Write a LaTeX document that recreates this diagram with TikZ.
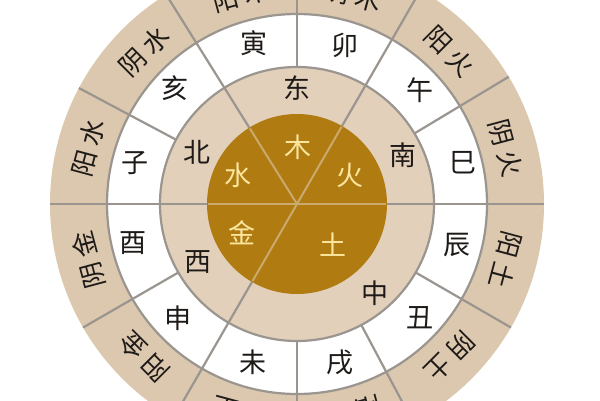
\documentclass[tikz,border=0pt]{standalone}
\usepackage{fontspec}
\setmainfont{Noto Sans CJK SC}
\begin{document}
\begin{tikzpicture}[x=1pt,y=1pt]
\definecolor{ringbeige}{HTML}{DCC8AE}
\definecolor{innerbeige}{HTML}{E2D0BA}
\definecolor{disk}{HTML}{B07B10}
\definecolor{linegray}{HTML}{9A958F}
\definecolor{disklinec}{HTML}{CBAA70}
\definecolor{goldtext}{HTML}{FBE6A0}
\definecolor{inktext}{HTML}{1E1A18}
\tikzset{
  ringline/.style={draw=linegray, line width=2.2pt},
  diskline/.style={draw=disklinec, line width=2pt},
  ringtext/.style={text=inktext, font=\fontsize{27}{27}\selectfont, inner sep=0pt},
  disktext/.style={text=goldtext, font=\fontsize{27}{27}\selectfont, inner sep=0pt},
  outertext/.style={text=inktext, font=\fontsize{26}{26}\selectfont, inner sep=0pt}
}
\useasboundingbox (0,0) rectangle (600,400);
\clip (0,0) rectangle (600,400);
\fill[white] (0,0) rectangle (600,400);
\coordinate (c) at (297,196);
% rings
\fill[ringbeige] (c) circle (247);
\fill[white] (c) circle (190);
\fill[innerbeige] (c) circle (137);
\fill[disk] (c) circle (90);
% circle strokes
\draw[ringline] (c) circle (190);
\draw[ringline] (c) circle (137);
\begin{scope}[shift={(297,196)}]
% spokes in white and outer rings
\foreach \a in {0,31,60,90,152,180,210,240,270,298,330}
  \draw[ringline] (\a:137) -- (\a:247);
% spokes in inner beige ring and beyond
\foreach \a in {0,60,122,180,240}
  \draw[ringline] (\a:90) -- (\a:137);
\draw[ringline] (122:137) -- (122:247);
% spokes in the disk
\foreach \a in {0,60,122,180,240}
  \draw[diskline] (0,0) -- (\a:89);
% outer ring labels
\foreach \a/\p/\q [count=\i] in {165/阳/水,135/阴/水,105/阳/木,75/阴/木,45/阳/火,15/阴/火,-15/阳/土,-45/阴/土,-75/阳/土,-105/阴/土,-135/阳/金,-165/阴/金}
  \node[outertext, rotate=\a-90] (o\i) at (\a:216) {\p\hspace{6pt}\q};
\end{scope}
% disk texts
\node[disktext] (mu)  at (298,253) {木};
\node[disktext] (shui) at (238,225) {水};
\node[disktext] (huo) at (350,225) {火};
\node[disktext] (jin) at (242,167) {金};
\node[disktext] (tu)  at (333,155) {土};
% directions
\node[ringtext] (dong) at (297,312) {东};
\node[ringtext] (bei)  at (197,248) {北};
\node[ringtext] (nan)  at (403,245) {南};
\node[ringtext] (xi)   at (198,138) {西};
\node[ringtext] (zhong) at (375,107) {中};
% branches
\node[ringtext] (zi)   at (135,237) {子};
\node[ringtext] (hai)  at (175,312) {亥};
\node[ringtext] (yin)  at (254,357) {寅};
\node[ringtext] (mao)  at (345,355) {卯};
\node[ringtext] (wu)   at (420,310) {午};
\node[ringtext] (si)   at (463,237) {巳};
\node[ringtext] (chen) at (457,155) {辰};
\node[ringtext] (chou) at (420,82)  {丑};
\node[ringtext] (xu)   at (340,38)  {戌};
\node[ringtext] (wei)  at (253,38)  {未};
\node[ringtext] (shen) at (178,82)  {申};
\node[ringtext] (you)  at (133,157) {酉};
\end{tikzpicture}
\end{document}
